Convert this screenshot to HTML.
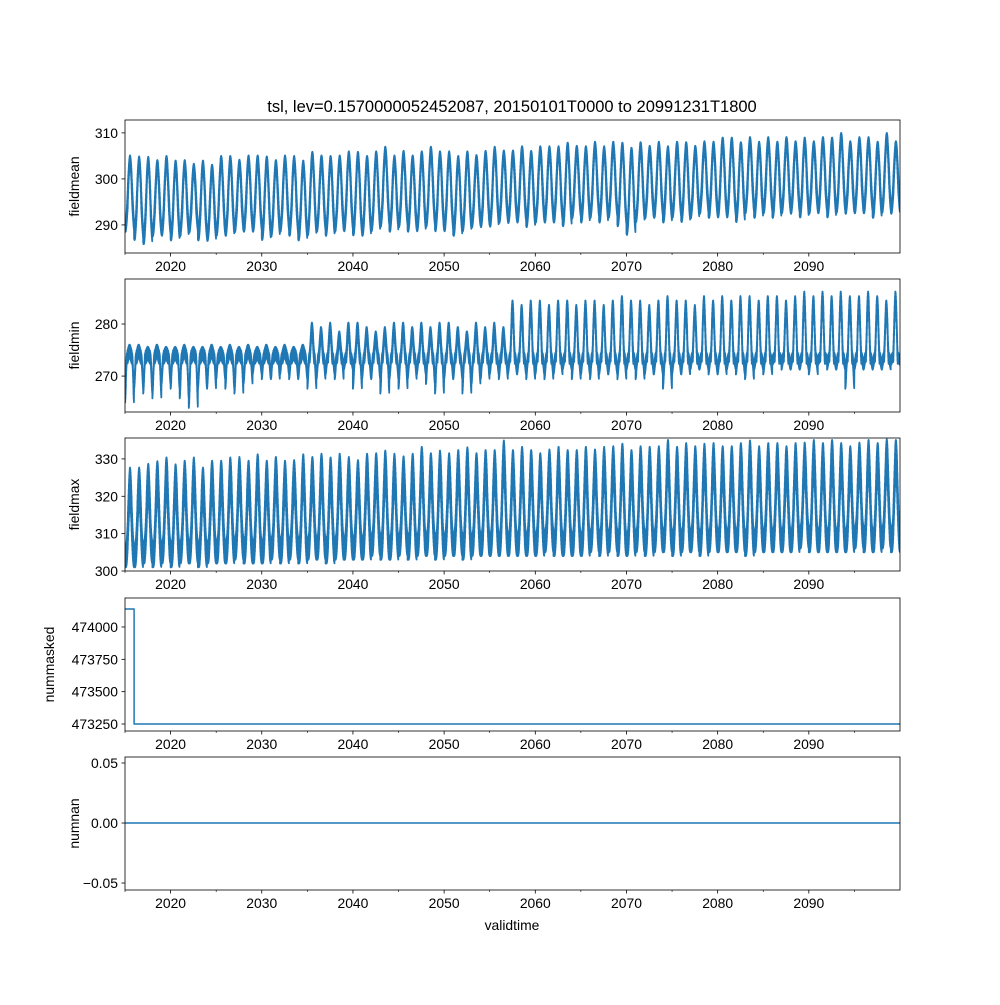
<!DOCTYPE html>
<html><head><meta charset="utf-8"><style>
body{margin:0;background:#fff}
svg text{font-family:"Liberation Sans","DejaVu Sans",sans-serif;fill:#000}
</style></head><body>
<svg id="fig" width="1000" height="1000" xmlns="http://www.w3.org/2000/svg">
<rect width="1000" height="1000" fill="#fff"/>
<text x="512" y="112" font-size="16.5" text-anchor="middle">tsl, lev=0.1570000052452087, 20150101T0000 to 20991231T1800</text>
<text x="512" y="930" font-size="13.9" text-anchor="middle">validtime</text>
</svg>
<script>
const years=[];for(let y=2015;y<=2099;y++)years.push(y);
const meanMax=[306,306,306,305,306,305,305,304,305,304,306,306,305,306,306,306,305,306,306,305,307,306,306,306,307,307,306,307,308,306,307,306,307,308,307,307,306,307,306,307,308,307,307,308,307,308,308,308,309,308,308,309,308,309,309,308,309,308,309,308,309,309,308,309,309,310,310,309,310,309,310,309,310,309,310,309,310,310,311,309,310,310,309,311,309];
const meanMin=[288,286,285,287,287,286,287,288,286,286,287,287,288,288,288,286,287,288,287,286,287,288,287,288,288,287,287,288,289,288,289,288,288,289,288,288,287,288,289,289,289,290,290,290,289,290,290,290,289,291,290,291,290,291,289,287,290,291,291,290,291,290,291,292,291,291,291,290,292,291,292,291,292,292,291,292,292,291,292,292,292,292,291,292,292];
const minUp=[275,275,274.5,275,274.5,274.5,275,274.5,274.5,275,274.5,275,274.5,275,274.5,275,274.5,275,274.5,275,280,279,280,278,280,280,279,278,279,280,280,279,280,279,280,280,279,278,280,279,280,279,285,284,285,285,284,285,285,284,285,285,284,285,286,285,285,284,285,286,285,285,284,286,285,286,285,286,286,285,286,286,285,286,287,286,287,286,287,286,286,287,286,285,287];
const minDown=[265,268,267,266,269,268,266,264,268,268,270,268,267,269,271,270,270,271,270,270,268,270,271,270,272,268,270,270,267,270,268,270,271,269,267,270,270,267,269,270,271,270,271,271,270,271,270,271,272,270,271,270,271,271,270,272,270,271,271,268,271,271,272,272,271,271,272,271,270,272,271,273,272,272,272,271,273,272,272,268,272,272,272,272,273];
const maxMax=[326,326,327,328,329,327,328,329,326,328,328,329,329,328,330,328,329,328,328,330,329,330,329,330,329,328,330,330,331,330,329,330,332,330,331,330,331,332,330,331,331,334,331,332,331,330,331,332,331,331,332,331,332,332,333,331,332,332,332,334,332,333,332,333,333,332,332,333,334,332,333,333,332,333,333,334,333,334,333,332,333,334,333,334,334];
const maxMin=[302,302,303,302,303,302,303,303,302,303,303,303,304,303,303,303,304,303,304,303,304,304,303,304,304,304,304,305,304,304,305,304,305,305,304,305,305,304,305,305,305,305,305,305,305,305,306,305,305,305,305,306,305,306,305,305,306,305,306,306,305,306,306,305,306,306,306,306,305,306,306,306,306,306,307,306,306,306,306,306,307,306,306,307,306];
const maskTimes=[2015,2016.0,2016.0,2100];
const maskVals=[474139,474139,473250,473250];
const nanTimes=[2015,2100];
const nanVals=[0,0];
const xTicks=[2020,2030,2040,2050,2060,2070,2080,2090];
const xMinor=[2015,2025,2035,2045,2055,2065,2075,2085,2095];

const svg=document.getElementById('fig');const NS='http://www.w3.org/2000/svg';
const X0=125,X1=900;
const xs=t=>X0+(t-2015)/85*(X1-X0);
function mk(tag,attrs,parent){const e=document.createElementNS(NS,tag);for(const k in attrs)e.setAttribute(k,attrs[k]);(parent||svg).appendChild(e);return e;}
const panels=[
 {name:'fieldmean',top:120,lo:283.9,hi:312.8,ticks:[290,300,310],lab:v=>v},
 {name:'fieldmin',top:279,lo:263.1,hi:288.65,ticks:[270,280],lab:v=>v},
 {name:'fieldmax',top:438,lo:300,hi:335.6,ticks:[300,310,320,330],lab:v=>v},
 {name:'nummasked',top:598,lo:473196,hi:474224,ticks:[473250,473500,473750,474000],lab:v=>v},
 {name:'numnan',top:757,lo:-0.0558,hi:0.055,ticks:[-0.05,0,0.05],lab:v=>v.toFixed(2).replace('-','\u2212')}
];
const H=133;
panels.forEach((p,i)=>{
 const g=mk('g',{});
 
 
 const ys=v=>p.top+H-(v-p.lo)/(p.hi-p.lo)*H;
 let pts=[];
 if(i<3){
  const N=96;
  years.forEach((y,k)=>{
   for(let j=0;j<N;j++){
    const f=j/N,t=y+f;let v;const z=(j%2)?1:-1;
    if(i===0){const hi=meanMax[k],lo=meanMin[k];const s=-Math.cos(2*Math.PI*(f-0.05));const m=(hi+lo)/2-1;v=m+(s>0?(hi-m)*0.8:(m-lo)*0.8)*s+z*2.2*(1-0.5*Math.abs(s));}
    else if(i===1){const b=273.6;const s=Math.sin(2*Math.PI*(f-0.25));
      v=s>0?b+(minUp[k]-b)*Math.pow(s,1.5)*0.85:b+(minDown[k]-b)*Math.pow(-s,3)*0.92;v+=z*0.9*(s>0?1.4:1);}
    else {const hi=maxMax[k],lo=maxMin[k];const s=(1-Math.cos(2*Math.PI*(f-0.05)))/2;v=lo+2+(hi-lo-2)*Math.pow(s,1.6)*0.85+z*(3+2*s);}
    pts.push(xs(t).toFixed(1)+','+ys(v).toFixed(1));
   }
  });
 } else {
  const T=i===3?maskTimes:nanTimes,V=i===3?maskVals:nanVals;
  T.forEach((t,k)=>pts.push(xs(t).toFixed(1)+','+ys(V[k]).toFixed(1)));
 }
 const cp=mk('clipPath',{id:'c'+i},g);mk('rect',{x:X0,y:p.top,width:X1-X0,height:H},cp);
 const line=mk('polyline',{points:pts.join(' '),fill:'none',stroke:'#1f77b4','stroke-width':i<3?1.8:1.5,'stroke-linejoin':'round','clip-path':'url(#c'+i+')'},g);
 
 
 const fr=mk('rect',{x:X0,y:p.top,width:X1-X0,height:H,fill:'none',stroke:'#000','stroke-width':0.8},g);
 
 
 p.ticks.forEach(v=>{const y=ys(v);mk('line',{x1:X0-3.5,x2:X0,y1:y,y2:y,stroke:'#000','stroke-width':0.8},g);
  const t=mk('text',{x:X0-7,y:y+5,'font-size':13.9,'text-anchor':'end'},g);t.textContent=p.lab(v);
  
  });
 const by=p.top+H;
 xTicks.forEach(v=>{const x=xs(v);mk('line',{x1:x,x2:x,y1:by,y2:by+3.5,stroke:'#000','stroke-width':0.8},g);
  const t=mk('text',{x:x,y:by+18,'font-size':13.9,'text-anchor':'middle'},g);t.textContent=v;
  
  });
 xMinor.forEach(v=>{const x=xs(v);mk('line',{x1:x,x2:x,y1:by,y2:by+2,stroke:'#000','stroke-width':0.6},g);});
 const yl=mk('text',{x:0,y:0,'font-size':13.9,'text-anchor':'middle',transform:`translate(${i===3?54:79},${p.top+H/2}) rotate(-90)`},g);
 yl.textContent=p.name;
 
 
});
</script>
</body></html>
